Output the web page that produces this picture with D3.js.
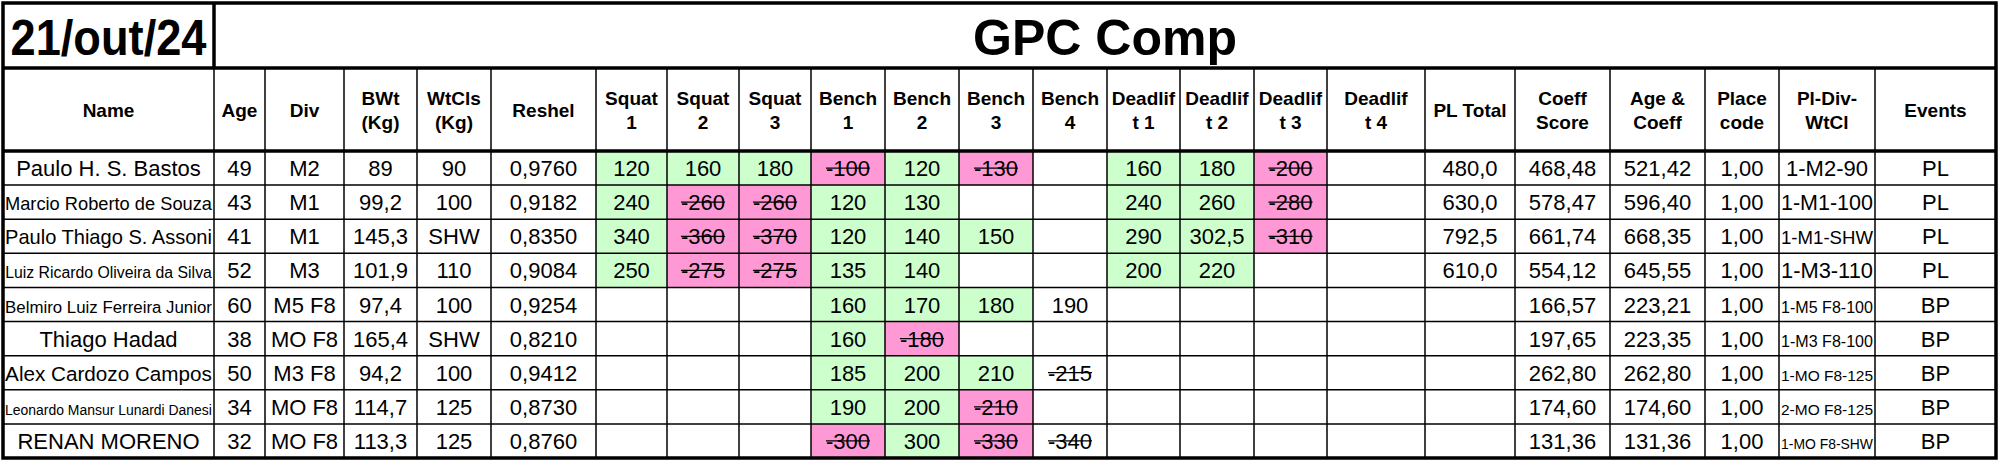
<!DOCTYPE html>
<html><head><meta charset="utf-8">
<script src="https://cdn.jsdelivr.net/npm/d3@7"></script>
<style>body{margin:0;background:#fff}</style>
</head><body>
<svg id="sheet"></svg>
<script>
// data
var headers = ["Name","Age","Div","BWt\n(Kg)","WtCls\n(Kg)","Reshel","Squat\n1","Squat\n2","Squat\n3",
  "Bench\n1","Bench\n2","Bench\n3","Bench\n4","Deadlif\nt 1","Deadlif\nt 2","Deadlif\nt 3","Deadlif\nt 4",
  "PL Total","Coeff\nScore","Age  &\nCoeff","Place\ncode","Pl-Div-\nWtCl","Events"];
var names = ["Paulo H. S. Bastos","Marcio Roberto de Souza","Paulo Thiago S. Assoni","Luiz Ricardo Oliveira da Silva",
  "Belmiro Luiz Ferreira Junior","Thiago Hadad","Alex Cardozo Campos","Leonardo Mansur Lunardi Danesi","RENAN MORENO"];
var ages = ["49","43","41","52","60","38","50","34","32"];
var divs = ["M2","M1","M1","M3","M5 F8","MO F8","M3 F8","MO F8","MO F8"];
var bodyWeights = ["89","99,2","145,3","101,9","97,4","165,4","94,2","114,7","113,3"];
var weightClasses = ["90","100","SHW","110","100","SHW","100","125","125"];
var reshel = ["0,9760","0,9182","0,8350","0,9084","0,9254","0,8210","0,9412","0,8730","0,8760"];
// "-" prefix = missed attempt
var squats = [["120","160","180"],["240","-260","-260"],["340","-360","-370"],["250","-275","-275"],
  ["","",""],["","",""],["","",""],["","",""],["","",""]];
var benches = [["-100","120","-130",""],["120","130","",""],["120","140","150",""],["135","140","",""],
  ["160","170","180","190"],["160","-180","",""],["185","200","210","-215"],["190","200","-210",""],["-300","300","-330","-340"]];
var deadlifts = [["160","180","-200",""],["240","260","-280",""],["290","302,5","-310",""],["200","220","",""],
  ["","","",""],["","","",""],["","","",""],["","","",""],["","","",""]];
var plTotals = ["480,0","630,0","792,5","610,0","","","","",""];
var coeffScores = ["468,48","578,47","661,74","554,12","166,57","197,65","262,80","174,60","131,36"];
var ageCoeffs = ["521,42","596,40","668,35","645,55","223,21","223,35","262,80","174,60","131,36"];
var placeCodes = ["1,00","1,00","1,00","1,00","1,00","1,00","1,00","1,00","1,00"];
var plDivs = ["1-M2-90","1-M1-100","1-M1-SHW","1-M3-110","1-M5 F8-100","1-M3 F8-100","1-MO F8-125","2-MO F8-125","1-MO F8-SHW"];
var events = ["PL","PL","PL","PL","BP","BP","BP","BP","BP"];

// layout
var colEdges = [3,214,265,344,417,491,596,667,739,811,885,959,1033,1107,1180,1254,1327,1425,1515,1610,1705,1779,1875,1996];
var titleTop = 3, titleBottom = 68, headBottom = 151, tableBottom = 458;
var GREEN = "#ccffcc", PINK = "#ff99d6";
var FONT = "'Liberation Sans Narrow','Liberation Sans',Arial,sans-serif";

var svg = d3.select("#sheet").attr("width", 2000).attr("height", 461)
  .style("font-family", FONT);

var y = d3.scaleBand().domain(d3.range(names.length)).range([headBottom, tableBottom]);

// rows of cells: {text, fill, strike}
var rows = names.map(function(n, i) {
  var cells = [n, ages[i], divs[i], bodyWeights[i], weightClasses[i], reshel[i]].map(function(t){ return {text: t}; });
  [squats[i], benches[i], deadlifts[i]].forEach(function(lift) {
    var list = lift.slice(); while (list.length < 4) list.push(null);
    list.forEach(function(v, k) {
      if (v === null) return;
      var miss = v.charAt(0) === "-";
      var fill = (k < 3 && v !== "") ? (miss ? PINK : GREEN) : null;
      cells.push({text: v, fill: fill, strike: miss});
    });
  });
  [plTotals[i], coeffScores[i], ageCoeffs[i], placeCodes[i], plDivs[i], events[i]].forEach(function(t){ cells.push({text: t}); });
  return cells;
});

function fit(sel, maxW) {
  sel.each(function() {
    var w = this.getComputedTextLength();
    if (w > maxW) {
      var fs = parseFloat(d3.select(this).style("font-size"));
      d3.select(this).style("font-size", (fs * maxW / w) + "px");
    }
  });
}

// cells
rows.forEach(function(cells, i) {
  var g = svg.append("g");
  cells.forEach(function(c, j) {
    var x0 = colEdges[j], x1 = colEdges[j + 1];
    if (c.fill) g.append("rect").attr("x", x0).attr("y", y(i)).attr("width", x1 - x0).attr("height", y.bandwidth()).attr("fill", c.fill);
    if (!c.text) return;
    var t = g.append("text").attr("x", (x0 + x1) / 2).attr("y", y(i) + y.bandwidth() / 2 + 8)
      .attr("text-anchor", "middle").style("font-size", "22px").text(c.text);
    fit(t, x1 - x0 - 4);
    if (c.strike) {
      var bb = t.node().getBBox();
      g.append("line").attr("x1", bb.x).attr("x2", bb.x + bb.width)
        .attr("y1", y(i) + y.bandwidth() / 2).attr("y2", y(i) + y.bandwidth() / 2)
        .attr("stroke", "#000").attr("stroke-width", 1.3);
    }
  });
});

// headers
headers.forEach(function(h, j) {
  var lines = h.split("\n");
  var cx = (colEdges[j] + colEdges[j + 1]) / 2, cy = (titleBottom + headBottom) / 2;
  var t = svg.append("text").attr("text-anchor", "middle").style("font-size", "19px").style("font-weight", "bold")
    .style("font-family", "'Liberation Sans',Arial,sans-serif");
  lines.forEach(function(l, k) {
    t.append("tspan").attr("x", cx).attr("y", cy + 7 + (k - (lines.length - 1) / 2) * 24).text(l);
  });
  t.selectAll("tspan").each(function() {
    var w = this.getComputedTextLength(), maxW = colEdges[j + 1] - colEdges[j] - 4;
    if (w > maxW) t.style("font-size", (19 * maxW / w) + "px");
  });
});

// grid lines
var grid = svg.append("g").attr("stroke", "#000");
colEdges.slice(1, -1).forEach(function(x) {
  grid.append("line").attr("x1", x).attr("x2", x).attr("y1", titleBottom).attr("y2", tableBottom).attr("stroke-width", 1.5);
});
y.domain().slice(1).forEach(function(i) {
  grid.append("line").attr("x1", colEdges[0]).attr("x2", colEdges[colEdges.length - 1])
    .attr("y1", y(i)).attr("y2", y(i)).attr("stroke-width", 1.5);
});
grid.append("line").attr("x1", colEdges[0]).attr("x2", colEdges[colEdges.length - 1]).attr("y1", headBottom).attr("y2", headBottom).attr("stroke-width", 3.5);
grid.append("line").attr("x1", colEdges[0]).attr("x2", colEdges[colEdges.length - 1]).attr("y1", titleBottom).attr("y2", titleBottom).attr("stroke-width", 3.5);
grid.append("line").attr("x1", colEdges[1]).attr("x2", colEdges[1]).attr("y1", titleTop).attr("y2", titleBottom).attr("stroke-width", 3.5);
grid.append("rect").attr("x", colEdges[0]).attr("y", titleTop).attr("width", colEdges[colEdges.length - 1] - colEdges[0])
  .attr("height", tableBottom - titleTop).attr("fill", "none").attr("stroke-width", 3.5);

// title row
svg.append("text").attr("x", (colEdges[0] + colEdges[1]) / 2).attr("y", titleBottom - 13).attr("text-anchor", "middle")
  .style("font-family", "'Liberation Sans',Arial,sans-serif").style("font-size", "50px").style("font-weight", "bold")
  .attr("textLength", 196).attr("lengthAdjust", "spacingAndGlyphs").text("21/out/24");
svg.append("text").attr("x", (colEdges[1] + colEdges[colEdges.length - 1]) / 2).attr("y", titleBottom - 13).attr("text-anchor", "middle")
  .style("font-family", "'Liberation Sans',Arial,sans-serif").style("font-size", "50px").style("font-weight", "bold").text("GPC Comp");
</script>
</body></html>
